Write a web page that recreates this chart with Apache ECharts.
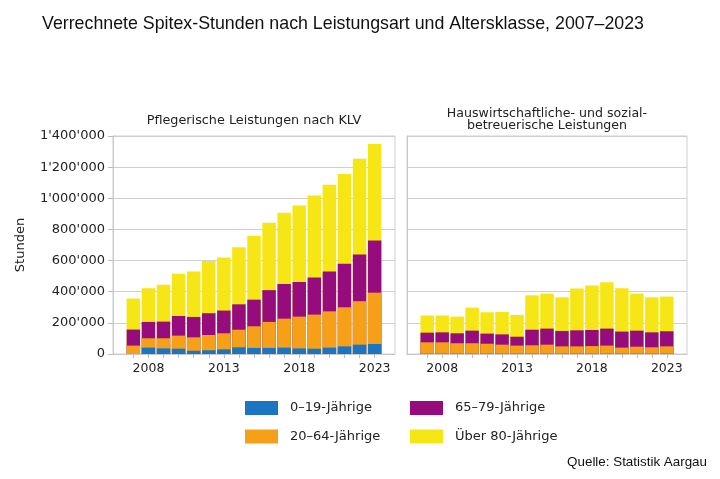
<!DOCTYPE html>
<html><head><meta charset="utf-8">
<script src="https://cdn.jsdelivr.net/npm/echarts@6/dist/echarts.min.js"></script>
<style>html,body{margin:0;padding:0;background:#fff}#c{width:720px;height:479px}</style>
</head><body><div id="c"></div>
<script>
const years = [2007,2008,2009,2010,2011,2012,2013,2014,2015,2016,2017,2018,2019,2020,2021,2022,2023];
const xTickLabels = [2008,2013,2018,2023];
const seriesNames = ['0–19-Jährige','20–64-Jährige','65–79-Jährige','Über 80-Jährige'];
// Pflegerische Leistungen nach KLV (Stunden)
const klv_0_19  = [0,41000,36000,34000,21000,24000,30000,43000,39000,39000,41000,36000,34000,41000,49000,60000,64000];
const klv_20_64 = [54000,60000,65000,84000,86000,98000,103000,113000,139000,167000,186000,204000,219000,233000,251000,279000,330000];
const klv_65_79 = [103000,105000,107000,126000,131000,140000,146000,163000,171000,204000,223000,223000,238000,256000,279000,300000,335000];
const klv_80p   = [199000,216000,236000,271000,292000,336000,341000,367000,410000,433000,457000,491000,527000,557000,577000,615000,620000];
// Hauswirtschaftliche- und sozialbetreuerische Leistungen (Stunden)
const hw_0_19  = [2000,2000,2000,2000,2000,2000,2000,2000,2000,2000,2000,2000,2000,2000,2000,2000,2000];
const hw_20_64 = [73000,73000,67000,67000,64000,58000,52000,54000,58000,47000,47000,49000,52000,39000,45000,41000,47000];
const hw_65_79 = [62000,64000,64000,81000,65000,66000,57000,100000,103000,99000,103000,103000,109000,103000,103000,96000,97000];
const hw_80p   = [110000,108000,107000,148000,137000,144000,140000,221000,225000,216000,268000,286000,298000,278000,238000,225000,223000];
const yTicks = [0,200000,400000,600000,800000,1000000,1200000,1400000];

const colors = ['#1b75c3','#f6a01a','#970c7c','#f7e616'];
const fmt = v => String(v).replace(/\B(?=(\d{3})+(?!\d))/g, "'");
const FONT = 'DejaVu Sans';
const SANS = 'Liberation Sans';

const klv = [klv_0_19, klv_20_64, klv_65_79, klv_80p];
const hw = [hw_0_19, hw_20_64, hw_65_79, hw_80p];

function xAxis(idx){
  return {
    type:'value', gridIndex: idx, min: 2005.65, max: 2024.35,
    axisLine:{show:true, lineStyle:{color:'#c8c8c8'}},
    splitLine:{show:false},
    axisTick:{show:true, customValues: years, length:4, lineStyle:{color:'#bbb'}},
    axisLabel:{customValues: xTickLabels, formatter: v => String(v), color:'#222', fontFamily: FONT, fontSize: 12.5, margin: 8}
  };
}
function yAxis(idx, labels){
  return {
    type:'value', gridIndex: idx, min: yTicks[0], max: yTicks[yTicks.length-1], interval: yTicks[1]-yTicks[0],
    axisLine:{show:true, lineStyle:{color:'#c8c8c8'}},
    axisTick:{show: labels, length:5, lineStyle:{color:'#bbb'}},
    splitLine:{show:true, lineStyle:{color:'#cfcfcf'}},
    axisLabel:{show: labels, formatter: fmt, color:'#222', fontFamily: FONT, fontSize: 13, margin: 8},
    name: labels ? 'Stunden' : '', nameLocation:'middle', nameGap: 86,
    nameTextStyle:{color:'#222', fontFamily: FONT, fontSize: 13}
  };
}
// Stack manually (value-type x axis): draw cumulative totals, top segment first, overlapping
const series = [];
[klv, hw].forEach((set, gi) => {
  const cum = set.map((arr, si) => years.map((y, i) => {
    let s = 0; for (let k = 0; k <= si; k++) s += set[k][i]; return s;
  }));
  for (let si = set.length - 1; si >= 0; si--) {
    series.push({
      type:'bar', name: seriesNames[si], xAxisIndex: gi, yAxisIndex: gi,
      barWidth: 13.5, barGap: '-100%', itemStyle:{color: colors[si]},
      data: years.map((y,i) => [y, cum[si][i]])
    });
  }
});

const chart = echarts.init(document.getElementById('c'), null, {renderer:'canvas'});
chart.setOption({
  animation:false,
  color: colors,
  title:[
    {text:'Verrechnete Spitex-Stunden nach Leistungsart und Altersklasse, 2007–2023', left: 37, top: 10,
     textStyle:{fontFamily: SANS, fontSize: 17.8, fontWeight:'normal', color:'#111'}},
    {text:'Pflegerische Leistungen nach KLV', left: 249, top: 109, textAlign:'center',
     textStyle:{fontFamily: FONT, fontSize: 12.8, fontWeight:'normal', color:'#222'}},
    {text:'Hauswirtschaftliche- und sozial-\nbetreuerische Leistungen', left: 542, top: 103, textAlign:'center',
     textStyle:{fontFamily: FONT, fontSize: 12.6, fontWeight:'normal', color:'#222', lineHeight: 12, align:'center'}},
    {text:'Quelle: Statistik Aargau', right: 8, top: 451,
     textStyle:{fontFamily: SANS, fontSize: 13.4, fontWeight:'normal', color:'#111'}}
  ],
  grid:[
    {left:113, top:136, width:282, height:218, show:true, borderColor:'#d0d0d0', borderWidth:1, backgroundColor:'transparent'},
    {left:407, top:136, width:280, height:218, show:true, borderColor:'#d0d0d0', borderWidth:1, backgroundColor:'transparent'}
  ],
  xAxis:[xAxis(0), xAxis(1)],
  yAxis:[yAxis(0,true), yAxis(1,false)],
  legend:[
    {data:[seriesNames[0], seriesNames[1]], orient:'vertical', left:240, top:396, itemWidth:33, itemHeight:14, itemGap:14.5,
     icon:'rect', textStyle:{fontFamily: FONT, fontSize:13, color:'#222', padding:[0,0,0,7]}, selectedMode:false},
    {data:[seriesNames[2], seriesNames[3]], orient:'vertical', left:405, top:396, itemWidth:33, itemHeight:14, itemGap:14.5,
     icon:'rect', textStyle:{fontFamily: FONT, fontSize:13, color:'#222', padding:[0,0,0,7]}, selectedMode:false}
  ],
  series
});
</script></body></html>
